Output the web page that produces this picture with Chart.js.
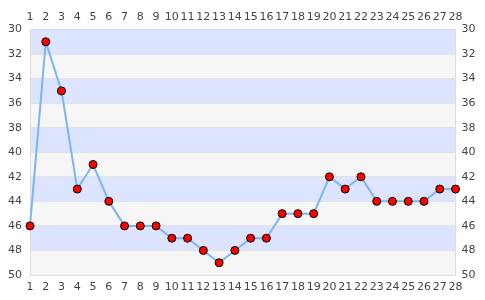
<!DOCTYPE html>
<html lang="en">
<head>
    <meta charset="UTF-8">
    <title>Chart</title>
    <script src="https://cdn.jsdelivr.net/npm/chart.js@4.4.0/dist/chart.umd.min.js"></script>
    <style>
        body { margin: 0; background: #fff; }
        #wrap { width: 485px; height: 300px; }
    </style>
</head>
<body>
    <div id="wrap"><canvas id="linechart"></canvas></div>
<script>
    // data
    var labels = ['1','2','3','4','5','6','7','8','9','10','11','12','13','14',
                  '15','16','17','18','19','20','21','22','23','24','25','26','27','28'];
    var values = [46, 31, 35, 43, 41, 44, 46, 46, 46, 47, 47, 48, 49, 48,
                  47, 47, 45, 45, 45, 42, 43, 42, 44, 44, 44, 44, 43, 43];
    var yMin = 30, yMax = 50, yStep = 2;

    // alternating horizontal bands behind the plot
    const bands = {
        id: 'bands',
        beforeDraw(chart) {
            const ctx = chart.ctx, a = chart.chartArea, y = chart.scales.y;
            ctx.save();
            for (let v = yMin, i = 0; v < yMax; v += yStep, i++) {
                const p1 = y.getPixelForValue(v), p2 = y.getPixelForValue(v + yStep);
                ctx.fillStyle = i % 2 === 0 ? '#dde4ff' : '#f6f6f6';
                ctx.fillRect(a.left, Math.min(p1, p2), a.right - a.left, Math.abs(p2 - p1));
            }
            ctx.restore();
        }
    };

    Chart.defaults.font.family = 'DejaVu Sans';
    Chart.defaults.font.size = 11;
    Chart.defaults.color = '#444';

    const yTicks = { stepSize: yStep, padding: 8 };
    const myChart = new Chart(document.getElementById('linechart'), {
        type: 'line',
        data: {
            labels: labels,
            datasets: [{
                data: values,
                borderColor: '#7ab6f2',
                borderWidth: 2,
                backgroundColor: '#ff0000',
                pointBorderColor: '#000',
                pointBorderWidth: 1,
                pointRadius: 4,
                tension: 0
            }]
        },
        options: {
            responsive: true,
            maintainAspectRatio: false,
            animation: false,
            layout: { padding: 0 },
            plugins: { legend: { display: false }, tooltip: { enabled: false } },
            scales: {
                x: {
                    position: 'bottom', offset: false,
                    grid: { display: false, drawTicks: false },
                    border: { color: '#dddddd' },
                    ticks: { padding: 6, maxRotation: 0, autoSkip: false },
                    afterFit(s) { s.height = 25; }
                },
                x2: {
                    position: 'top', offset: false, labels: labels,
                    grid: { display: false, drawTicks: false },
                    border: { color: '#dddddd' },
                    ticks: { padding: 6, maxRotation: 0, autoSkip: false },
                    afterFit(s) { s.height = 29.5; }
                },
                y: {
                    position: 'left', reverse: true, min: yMin, max: yMax,
                    grid: { color: '#e2e2e2', drawTicks: false },
                    border: { color: '#dddddd' },
                    ticks: yTicks,
                    afterFit(s) { s.width = 30; }
                },
                y2: {
                    position: 'right', reverse: true, min: yMin, max: yMax,
                    grid: { display: false, drawTicks: false },
                    border: { color: '#dddddd' },
                    ticks: { stepSize: yStep, padding: 6 },
                    afterFit(s) { s.width = 29.5; }
                }
            }
        },
        plugins: [bands]
    });
</script>
</body>
</html>
